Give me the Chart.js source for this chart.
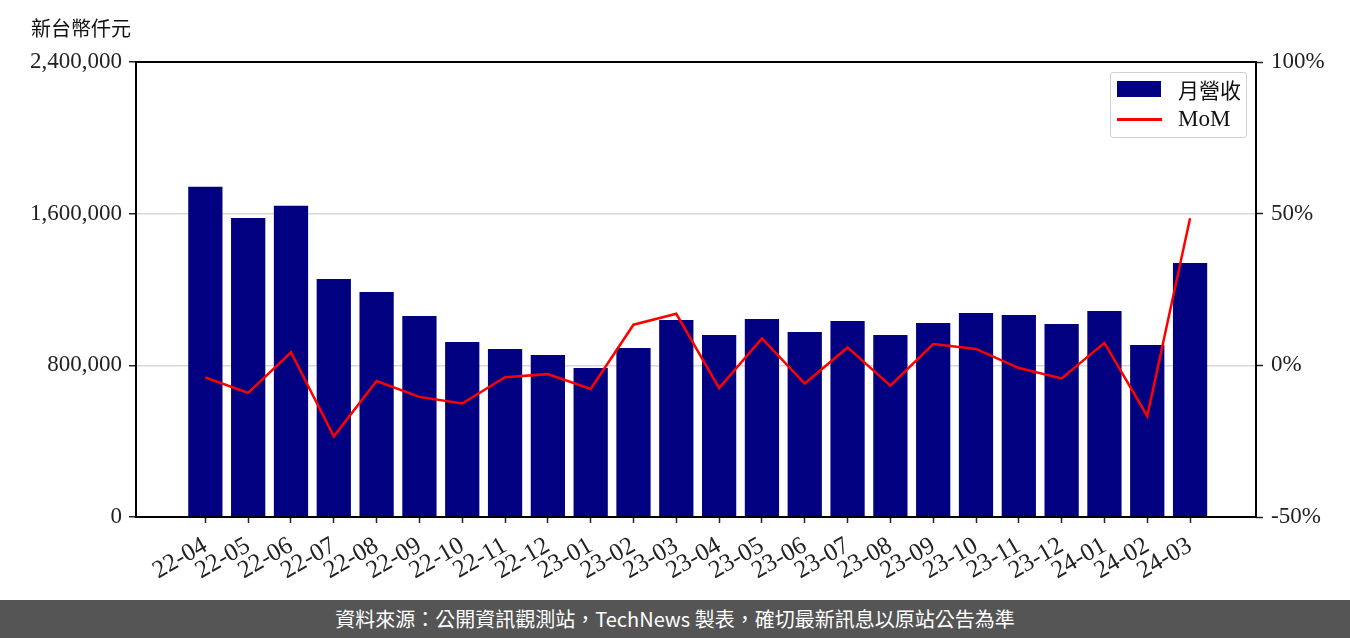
<!DOCTYPE html>
<html>
<head>
<meta charset="utf-8">
<script src="https://cdn.jsdelivr.net/npm/chart.js@4"></script>
<style>
  body { margin: 0; background: #fff; width: 1350px; height: 638px; overflow: hidden; position: relative; }
  #wrap { position: absolute; left: 0; top: 0; width: 1350px; height: 600px; }
  #unit { position: absolute; left: 31px; top: 13px; font: 20px "Noto Sans CJK TC", sans-serif; color: #111; }
  #legend { position: absolute; left: 1110px; top: 72px; width: 135px; height: 64px; border: 1px solid #d0d0d0; border-radius: 3px; background: rgba(255,255,255,0.85); }
  .lg { position: absolute; left: 67px; font-size: 21px; color: #111; }
  #footer { position: absolute; left: 0; top: 600px; width: 1350px; height: 38px; background: #555; color: #fff; font: 20px "Noto Sans CJK TC", sans-serif; text-align: center; line-height: 38px; }
</style>
</head>
<body>
<div id="wrap"><canvas id="myChart" width="1350" height="600"></canvas></div>
<div id="unit">新台幣仟元</div>
<div id="legend">
  <div style="position:absolute;left:6px;top:8px;width:44px;height:16px;background:#000080"></div>
  <div class="lg" style="top:1px;font-family:'Noto Sans CJK TC',sans-serif">月營收</div>
  <div style="position:absolute;left:6px;top:45px;width:45px;height:3px;background:#ff0000"></div>
  <div class="lg" style="top:33px;font-family:'Liberation Serif',serif;font-size:23px">MoM</div>
</div>
<div id="footer">資料來源：公開資訊觀測站，TechNews 製表，確切最新訊息以原站公告為準</div>
<script>
const months = ['22-04','22-05','22-06','22-07','22-08','22-09','22-10','22-11','22-12','23-01','23-02','23-03',
                '23-04','23-05','23-06','23-07','23-08','23-09','23-10','23-11','23-12','24-01','24-02','24-03']
const revenue = [1742000, 1577000, 1642000, 1255000, 1187000, 1060000, 923000, 886000, 854000, 786000, 891000, 1039000,
                 960000, 1044000, 976000, 1034000, 960000, 1023000, 1076000, 1065000, 1018000, 1087000, 907000, 1340000]
const mom = [-4.0, -9.1, 4.3, -23.4, -5.2, -10.4, -12.6, -3.9, -2.9, -7.8, 13.4, 17.0,
             -7.5, 8.9, -6.0, 5.9, -6.7, 7.0, 5.4, -0.9, -4.3, 7.4, -16.7, 48.5]
const leftTicks = [0, 800000, 1600000, 2400000]
const rightTicks = [-50, 0, 50, 100]

const tickFont = { family: 'Liberation Serif', size: 23 }

const frame = {
    id: 'frame',
    afterDatasetsDraw(chart) {
        const a = chart.chartArea
        const ctx = chart.ctx
        ctx.save()
        ctx.strokeStyle = '#000'
        ctx.lineWidth = 2
        ctx.strokeRect(a.left, a.top, a.right - a.left, a.bottom - a.top)
        ctx.restore()
    }
}

function keepTicks(list){
    return function(scale){ scale.ticks = list.map(v => ({ value: v })) }
}

const ctx = document.getElementById('myChart')
new Chart(ctx, {
    data: {
        datasets: [
            {
                type: 'line',
                label: 'MoM',
                data: mom.map((v, i) => ({ x: i, y: v })),
                yAxisID: 'y2',
                borderColor: '#ff0000',
                borderWidth: 2.5,
                pointRadius: 0,
                tension: 0,
                order: 0
            },
            {
                type: 'bar',
                label: '月營收',
                data: revenue.map((v, i) => ({ x: i, y: v })),
                yAxisID: 'y',
                backgroundColor: '#000080',
                barPercentage: 1,
                categoryPercentage: 0.8,
                order: 1
            }
        ]
    },
    options: {
        responsive: false,
        animation: false,
        layout: { padding: { top: 62, left: 0, right: 0, bottom: 0 } },
        plugins: { legend: { display: false }, tooltip: { enabled: false } },
        scales: {
            x: {
                type: 'linear',
                offset: false,
                min: -1.62,
                max: 24.54,
                afterBuildTicks: keepTicks(months.map((m, i) => i)),
                afterFit(s){ s.height = 83 },
                border: { display: false },
                grid: { offset: false, drawOnChartArea: false, tickColor: '#222', tickLength: 6, tickWidth: 1.5 },
                ticks: {
                    font: { family: 'Liberation Serif', size: 25 },
                    color: '#222',
                    minRotation: 30,
                    maxRotation: 30,
                    autoSkip: false,
                    padding: 8,
                    callback: v => months[v]
                }
            },
            y: {
                position: 'left',
                min: 0,
                max: 2400000,
                afterBuildTicks: keepTicks(leftTicks),
                afterFit(s){ s.width = 136 },
                border: { display: false },
                grid: { color: '#d8d8d8', lineWidth: 1.5, tickColor: '#222', tickLength: 7, tickWidth: 1.5 },
                ticks: {
                    font: tickFont,
                    color: '#222',
                    padding: 7,
                    callback: v => v.toLocaleString('en-US')
                }
            },
            y2: {
                position: 'right',
                min: -50,
                max: 100,
                afterBuildTicks: keepTicks(rightTicks),
                afterFit(s){ s.width = 94 },
                border: { display: false },
                grid: { drawOnChartArea: false, tickColor: '#222', tickLength: 7, tickWidth: 1.5 },
                ticks: {
                    font: tickFont,
                    color: '#222',
                    padding: 8,
                    callback: v => v + '%'
                }
            }
        }
    },
    plugins: [frame]
})
</script>
</body>
</html>
